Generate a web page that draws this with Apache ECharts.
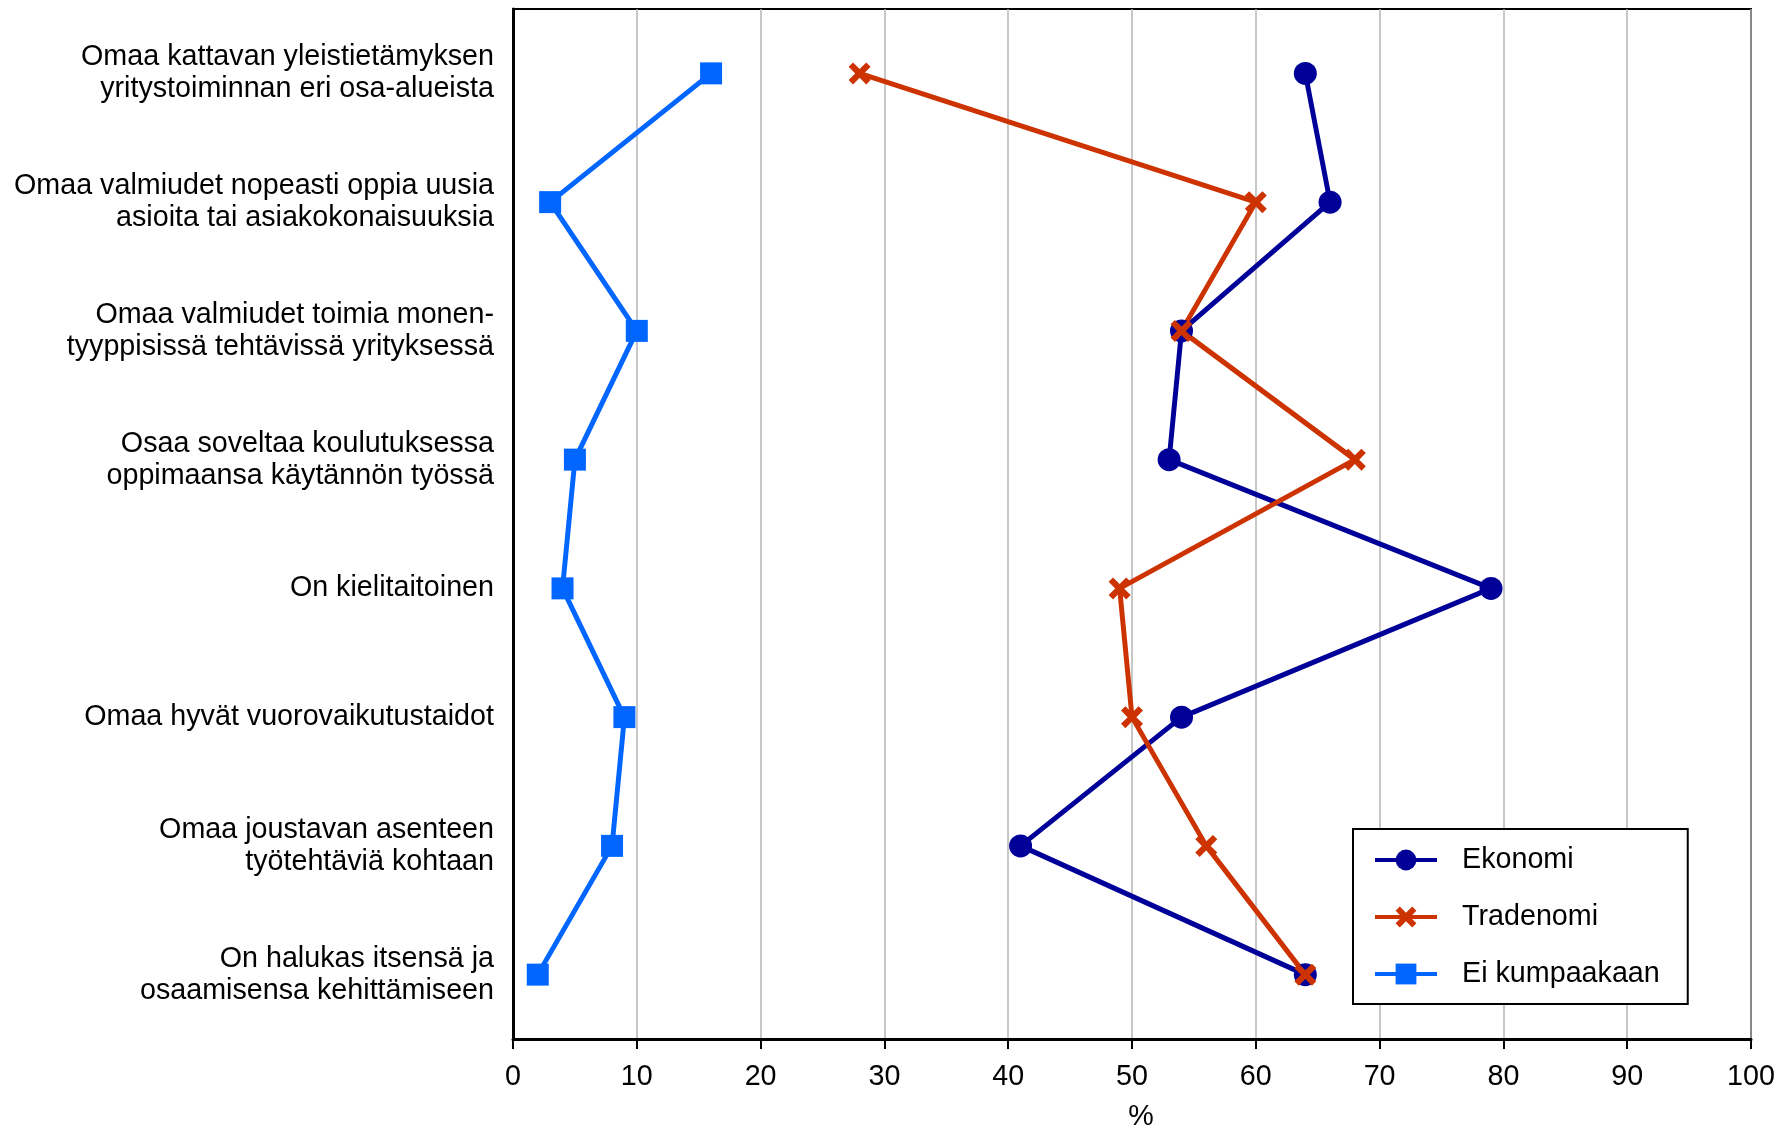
<!DOCTYPE html>
<html>
<head>
<meta charset="utf-8">
<script src="https://cdn.jsdelivr.net/npm/echarts@6/dist/echarts.min.js"></script>
<style>
html,body{margin:0;padding:0;background:#fff;}
#chart{width:1789px;height:1127px;}
</style>
</head>
<body>
<div id="chart"></div>
<script>
var categories = [
  'Omaa kattavan yleistietämyksen\nyritystoiminnan eri osa-alueista',
  'Omaa valmiudet nopeasti oppia uusia\nasioita tai asiakokonaisuuksia',
  'Omaa valmiudet toimia monen-\ntyyppisissä tehtävissä yrityksessä',
  'Osaa soveltaa koulutuksessa\noppimaansa käytännön työssä',
  'On kielitaitoinen',
  'Omaa hyvät vuorovaikutustaidot',
  'Omaa joustavan asenteen\ntyötehtäviä kohtaan',
  'On halukas itsensä ja\nosaamisensa kehittämiseen'
];
var seriesNames = ['Ekonomi', 'Tradenomi', 'Ei kumpaakaan'];
var ekonomi = [64, 66, 54, 53, 79, 54, 41, 64];
var tradenomi = [28, 60, 54, 68, 49, 50, 56, 64];
var eiKumpaakaan = [16, 3, 10, 5, 4, 9, 8, 2];
var xTicks = [0, 10, 20, 30, 40, 50, 60, 70, 80, 90, 100];

var FONT = '"Liberation Sans", Arial, sans-serif';
var FS = 28.7;
var crossPath = 'path://M0,2 L2,0 L5,3 L8,0 L10,2 L7,5 L10,8 L8,10 L5,7 L2,10 L0,8 L3,5 Z';

function mk(name, data, color, symbol, size) {
  return {
    name: name,
    type: 'line',
    data: data,
    symbol: symbol,
    symbolSize: size,
    lineStyle: {color: color, width: 5},
    itemStyle: {color: color},
    z: 3
  };
}

var chart = echarts.init(document.getElementById('chart'), null, {renderer: 'canvas'});
chart.setOption({
  animation: false,
  backgroundColor: '#ffffff',
  textStyle: {fontFamily: FONT},
  grid: {
    left: 513, right: 38, top: 9, bottom: 88,
    containLabel: false,
    outerBoundsMode: 'none',
    show: true, borderColor: '#000', borderWidth: 2, backgroundColor: 'transparent'
  },
  xAxis: {
    type: 'value',
    min: xTicks[0],
    max: xTicks[xTicks.length - 1],
    interval: 10,
    name: '%',
    nameLocation: 'middle',
    nameGap: 64,
    nameTextStyle: {fontFamily: FONT, fontSize: FS, color: '#000', padding: [0, 0, 0, 18]},
    axisLine: {show: true, lineStyle: {color: '#000', width: 3}},
    axisTick: {show: true, inside: false, length: 10, lineStyle: {color: '#000', width: 2}},
    axisLabel: {fontFamily: FONT, fontSize: FS, color: '#000', margin: 24,
      formatter: function (v) { return xTicks.indexOf(v) >= 0 ? String(v) : ''; }},
    splitLine: {show: true, lineStyle: {color: '#b4b4b4', width: 1.5}}
  },
  yAxis: {
    type: 'category',
    data: categories,
    inverse: true,
    boundaryGap: true,
    axisLine: {show: true, lineStyle: {color: '#000', width: 3}},
    axisTick: {show: false},
    splitLine: {show: false},
    axisLabel: {fontFamily: FONT, fontSize: FS, color: '#000', margin: 19,
      lineHeight: 32, align: 'right'}
  },
  legend: {
    orient: 'vertical',
    left: 1353,
    top: 829,
    backgroundColor: '#fff',
    borderColor: '#000',
    borderWidth: 2,
    borderRadius: 0,
    padding: [16, 28, 15, 20],
    itemWidth: 62,
    itemHeight: 26,
    itemGap: 27,
    lineStyle: {width: 4},
    textStyle: {fontFamily: FONT, fontSize: FS, color: '#000', lineHeight: 30, padding: [0, 0, 0, 20]},
    data: seriesNames
  },
  series: [
    mk(seriesNames[0], ekonomi, '#000099', 'circle', 23),
    mk(seriesNames[1], tradenomi, '#cc3300', crossPath, 22),
    mk(seriesNames[2], eiKumpaakaan, '#0066ff', 'rect', 22)
  ]
});
</script>
</body>
</html>
